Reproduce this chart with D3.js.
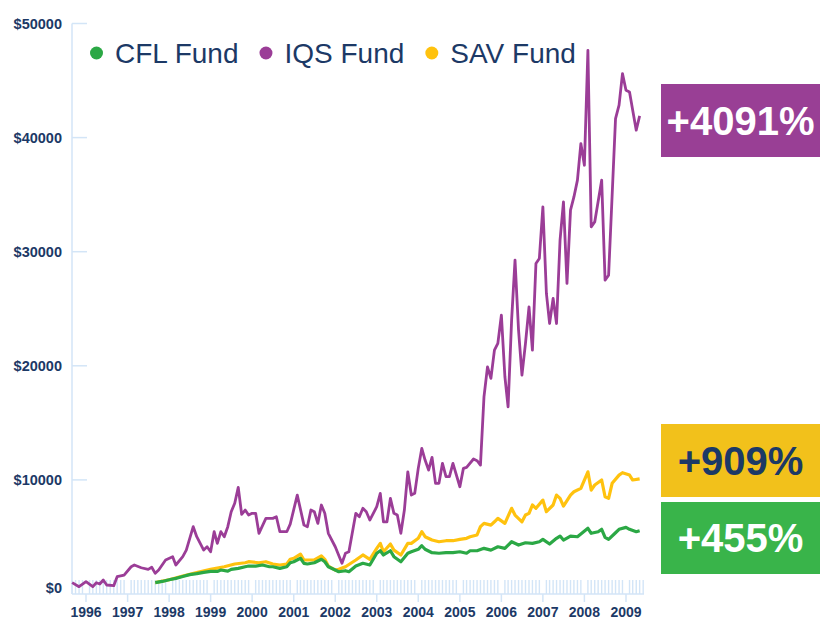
<!DOCTYPE html>
<html>
<head>
<meta charset="utf-8">
<script src="https://cdn.jsdelivr.net/npm/d3@7"></script>
<style>
  body { margin: 0; background: #fff; }
  svg { display: block; font-family: "Liberation Sans", Arial, sans-serif; }
  .tick-label { fill: #1c3966; font-size: 14.5px; font-weight: bold; }
  .year-label { fill: #1c3966; font-size: 14px; font-weight: bold; }
  .legend text { fill: #1c3966; font-size: 28px; }
  .badge text { font-size: 40px; font-weight: bold; }
</style>
</head>
<body>
<svg width="820" height="621"></svg>
<script>
// fund values (month, dollars)
const iqs = [
  ["1995-09", 1000], ["1995-11", 640], ["1996-01", 1080], ["1996-03", 640], ["1996-04", 990],
  ["1996-05", 880], ["1996-06", 1230], ["1996-07", 790], ["1996-09", 730], ["1996-10", 1515],
  ["1996-12", 1660], ["1997-02", 2390], ["1997-03", 2540], ["1997-05", 2300], ["1997-07", 2160],
  ["1997-08", 2340], ["1997-09", 1810], ["1997-10", 2100], ["1997-12", 2980], ["1998-02", 3270],
  ["1998-03", 2540], ["1998-05", 3270], ["1998-06", 3850], ["1998-08", 5900], ["1998-09", 5020],
  ["1998-11", 3850], ["1998-12", 4140], ["1999-01", 3700], ["1999-02", 5460], ["1999-03", 4440],
  ["1999-04", 5460], ["1999-05", 5020], ["1999-06", 5900], ["1999-07", 7210], ["1999-08", 7950],
  ["1999-09", 9350], ["1999-10", 6980], ["1999-11", 7360], ["1999-12", 6920], ["2000-01", 7070],
  ["2000-02", 7070], ["2000-03", 5320], ["2000-05", 6630], ["2000-07", 6630], ["2000-08", 6770],
  ["2000-09", 5460], ["2000-11", 5460], ["2000-12", 6130], ["2001-02", 8670], ["2001-04", 6040],
  ["2001-05", 5900], ["2001-06", 7360], ["2001-07", 7210], ["2001-08", 6190], ["2001-09", 7800],
  ["2001-10", 7070], ["2001-11", 5320], ["2002-01", 4140], ["2002-03", 2690], ["2002-04", 3570],
  ["2002-05", 3700], ["2002-07", 7070], ["2002-08", 6770], ["2002-09", 7510], ["2002-10", 7210],
  ["2002-11", 6480], ["2003-01", 7650], ["2003-02", 8820], ["2003-03", 6330], ["2003-04", 6330],
  ["2003-05", 8380], ["2003-06", 7070], ["2003-07", 6920], ["2003-08", 5320], ["2003-09", 7360],
  ["2003-10", 10710], ["2003-11", 8670], ["2003-12", 8820], ["2004-01", 11010], ["2004-02", 12760],
  ["2004-03", 11740], ["2004-04", 10860], ["2004-05", 11980], ["2004-06", 9700], ["2004-07", 9700],
  ["2004-08", 11450], ["2004-09", 10280], ["2004-10", 10280], ["2004-11", 11450], ["2005-01", 9400],
  ["2005-02", 11010], ["2005-03", 11100], ["2005-05", 11830], ["2005-06", 11680], ["2005-07", 11300],
  ["2005-08", 17280], ["2005-09", 19910], ["2005-10", 18900], ["2005-11", 21370], ["2005-12", 21960],
  ["2006-01", 24440], ["2006-02", 19040], ["2006-03", 16410], ["2006-04", 24000], ["2006-05", 29260],
  ["2006-06", 23130], ["2006-07", 19180], ["2006-08", 21960], ["2006-09", 25170], ["2006-10", 21370],
  ["2006-11", 28970], ["2006-12", 29410], ["2007-01", 33930], ["2007-02", 26340], ["2007-03", 23710],
  ["2007-04", 25900], ["2007-05", 23710], ["2007-06", 31010], ["2007-07", 34370], ["2007-08", 27220],
  ["2007-09", 33640], ["2007-10", 34800], ["2007-11", 36270], ["2007-12", 39480], ["2008-01", 37580],
  ["2008-02", 47650], ["2008-03", 32180], ["2008-04", 32610], ["2008-06", 36270], ["2008-07", 27510],
  ["2008-08", 27940], ["2008-10", 41670], ["2008-11", 42840], ["2008-12", 45610], ["2009-01", 44150],
  ["2009-02", 44000], ["2009-03", 42400], ["2009-04", 40650], ["2009-05", 41910]
];

const sav = [
  ["1997-09", 1000], ["1998-01", 1250], ["1998-05", 1580], ["1998-09", 1870], ["1999-01", 2160],
  ["1999-05", 2390], ["1999-08", 2630], ["1999-11", 2740], ["1999-12", 2830], ["2000-03", 2740],
  ["2000-05", 2830], ["2000-07", 2630], ["2000-09", 2540], ["2000-11", 2630], ["2000-12", 3040],
  ["2001-01", 3130], ["2001-03", 3500], ["2001-04", 2980], ["2001-05", 2980], ["2001-07", 2980],
  ["2001-09", 3330], ["2001-10", 3040], ["2001-11", 2450], ["2002-01", 2100], ["2002-02", 2160],
  ["2002-04", 2390], ["2002-07", 2980], ["2002-09", 3420], ["2002-11", 3040], ["2003-01", 4000],
  ["2003-02", 4440], ["2003-03", 3700], ["2003-05", 4380], ["2003-06", 3850], ["2003-08", 3420],
  ["2003-10", 4440], ["2003-11", 4440], ["2004-01", 4880], ["2004-02", 5460], ["2004-03", 5020],
  ["2004-05", 4730], ["2004-07", 4580], ["2004-09", 4670], ["2004-11", 4670], ["2005-01", 4790],
  ["2005-03", 4880], ["2005-04", 5020], ["2005-06", 5170], ["2005-07", 5900], ["2005-08", 6190],
  ["2005-10", 6040], ["2005-11", 6330], ["2005-12", 6630], ["2006-02", 6190], ["2006-04", 7510],
  ["2006-05", 6920], ["2006-07", 6330], ["2006-08", 6920], ["2006-09", 7070], ["2006-10", 7800],
  ["2006-11", 7510], ["2007-01", 8230], ["2007-02", 7210], ["2007-04", 7800], ["2007-05", 8670],
  ["2007-06", 8380], ["2007-07", 7710], ["2007-09", 8670], ["2007-10", 8960], ["2007-12", 9260],
  ["2008-02", 10710], ["2008-03", 9110], ["2008-04", 9550], ["2008-06", 9990], ["2008-07", 8520],
  ["2008-08", 8380], ["2008-09", 9700], ["2008-11", 10420], ["2008-12", 10630], ["2009-02", 10420],
  ["2009-03", 9990], ["2009-05", 10090]
];

const cfl = [
  ["1997-09", 1000], ["1997-11", 1100], ["1998-01", 1250], ["1998-03", 1370], ["1998-05", 1540],
  ["1998-07", 1700], ["1998-09", 1780], ["1998-11", 1900], ["1999-01", 1980], ["1999-03", 1980],
  ["1999-04", 2100], ["1999-06", 2000], ["1999-07", 2160], ["1999-09", 2250], ["1999-11", 2390],
  ["1999-12", 2450], ["2000-02", 2450], ["2000-04", 2540], ["2000-06", 2390], ["2000-07", 2390],
  ["2000-09", 2250], ["2000-11", 2390], ["2000-12", 2740], ["2001-01", 2830], ["2001-03", 3130],
  ["2001-04", 2690], ["2001-05", 2630], ["2001-07", 2740], ["2001-09", 3040], ["2001-10", 2830],
  ["2001-11", 2390], ["2002-01", 2100], ["2002-02", 1950], ["2002-04", 2040], ["2002-05", 1950],
  ["2002-07", 2450], ["2002-09", 2690], ["2002-11", 2540], ["2003-01", 3570], ["2003-02", 3790],
  ["2003-03", 3420], ["2003-05", 3790], ["2003-06", 3270], ["2003-08", 2830], ["2003-10", 3570],
  ["2003-11", 3700], ["2004-01", 3920], ["2004-02", 4230], ["2004-03", 3920], ["2004-05", 3620],
  ["2004-07", 3570], ["2004-09", 3620], ["2004-11", 3620], ["2005-01", 3700], ["2005-03", 3570],
  ["2005-04", 3790], ["2005-06", 3790], ["2005-08", 4000], ["2005-10", 3850], ["2005-12", 4140],
  ["2006-02", 4000], ["2006-04", 4580], ["2006-06", 4290], ["2006-08", 4490], ["2006-10", 4440],
  ["2006-12", 4580], ["2007-01", 4790], ["2007-03", 4380], ["2007-05", 4880], ["2007-06", 5080],
  ["2007-07", 4730], ["2007-09", 5080], ["2007-11", 5020], ["2007-12", 5260], ["2008-02", 5760],
  ["2008-03", 5320], ["2008-05", 5460], ["2008-06", 5670], ["2008-07", 4970], ["2008-08", 4790],
  ["2008-10", 5370], ["2008-11", 5670], ["2009-01", 5840], ["2009-02", 5670], ["2009-04", 5460],
  ["2009-05", 5550]
];

const yTicks = [0, 10000, 20000, 30000, 40000, 50000];
const years = ["1996", "1997", "1998", "1999", "2000", "2001", "2002", "2003", "2004", "2005", "2006", "2007", "2008", "2009"];
const funds = ["CFL Fund", "IQS Fund", "SAV Fund"];
const gains = ["+455%", "+4091%", "+909%"];

const colors = { "CFL Fund": "#2ba845", "IQS Fund": "#9b3d97", "SAV Fund": "#ffc20e" };
const badgeFill = { "CFL Fund": "#39b44a", "IQS Fund": "#993f95", "SAV Fund": "#f2c11b" };
const badgeText = { "CFL Fund": "#ffffff", "IQS Fund": "#ffffff", "SAV Fund": "#1c3966" };
const axisBlue = "#d3e5f7";

const svg = d3.select("svg");
const parse = d3.timeParse("%Y-%m");

const x = d3.scaleTime()
    .domain([parse("1996-01"), parse("2009-01")])
    .range([86, 626]);
const y = d3.scaleLinear()
    .domain([0, 50000])
    .range([594, 23.5]);

// minor month ticks (gap at each January)
const months = d3.timeMonth.range(parse("1995-09"), parse("2009-07"))
    .filter(d => d.getMonth() !== 0);
svg.append("g").selectAll("line")
    .data(months)
    .enter().append("line")
    .attr("x1", d => x(d)).attr("x2", d => x(d))
    .attr("y1", 580).attr("y2", 594)
    .attr("stroke", axisBlue).attr("stroke-width", 1.4);

// y axis
svg.append("line")
    .attr("x1", 72).attr("x2", 72)
    .attr("y1", y(50000)).attr("y2", 594)
    .attr("stroke", axisBlue).attr("stroke-width", 1.5);
svg.append("g").selectAll("line")
    .data(yTicks.filter(d => d > 0))
    .enter().append("line")
    .attr("x1", 72).attr("x2", 87)
    .attr("y1", d => y(d)).attr("y2", d => y(d))
    .attr("stroke", axisBlue).attr("stroke-width", 1.5);
svg.append("g").selectAll("text")
    .data(yTicks)
    .enter().append("text")
    .attr("class", "tick-label")
    .attr("x", 62)
    .attr("y", d => y(d) + (d === 0 ? -6 : 0))
    .attr("dy", "0.35em")
    .attr("text-anchor", "end")
    .text(d => "$" + d);

// x axis
svg.append("line")
    .attr("x1", 72).attr("x2", 644)
    .attr("y1", 594).attr("y2", 594)
    .attr("stroke", axisBlue).attr("stroke-width", 1.5);
svg.append("g").selectAll("line")
    .data(years)
    .enter().append("line")
    .attr("x1", d => x(parse(d + "-01"))).attr("x2", d => x(parse(d + "-01")))
    .attr("y1", 594).attr("y2", 602)
    .attr("stroke", axisBlue).attr("stroke-width", 1.5);
svg.append("g").selectAll("text")
    .data(years)
    .enter().append("text")
    .attr("class", "year-label")
    .attr("x", d => x(parse(d + "-01")))
    .attr("y", 617)
    .attr("text-anchor", "middle")
    .text(d => d);

// lines
const line = d3.line()
    .x(d => x(parse(d[0])))
    .y(d => y(d[1]));

const series = { "SAV Fund": sav, "CFL Fund": cfl, "IQS Fund": iqs };
["SAV Fund", "CFL Fund", "IQS Fund"].forEach(name => {
  svg.append("path")
      .datum(series[name])
      .attr("d", line)
      .attr("fill", "none")
      .attr("stroke", colors[name])
      .attr("stroke-width", name === "IQS Fund" ? 2.8 : 3.2)
      .attr("stroke-linejoin", "round");
});

// legend
const legend = svg.append("g").attr("class", "legend");
let lx = 96.5;
funds.forEach(name => {
  legend.append("circle")
      .attr("cx", lx).attr("cy", 53).attr("r", 6.5)
      .attr("fill", colors[name]);
  const t = legend.append("text")
      .attr("x", lx + 18.5).attr("y", 63)
      .text(name);
  lx += 18.5 + t.node().getComputedTextLength() + 27.5;
});

// percentage badges
const badges = [
  { name: "IQS Fund", top: 84, bottom: 157 },
  { name: "SAV Fund", top: 424, bottom: 497 },
  { name: "CFL Fund", top: 502, bottom: 574 }
];
const badge = svg.append("g").attr("class", "badge");
badges.forEach(b => {
  badge.append("rect")
      .attr("x", 661).attr("y", b.top)
      .attr("width", 159).attr("height", b.bottom - b.top)
      .attr("fill", badgeFill[b.name]);
  badge.append("text")
      .attr("x", 740.5)
      .attr("y", (b.top + b.bottom) / 2 + 14)
      .attr("text-anchor", "middle")
      .attr("fill", badgeText[b.name])
      .text(gains[funds.indexOf(b.name)]);
});
</script>
</body>
</html>
